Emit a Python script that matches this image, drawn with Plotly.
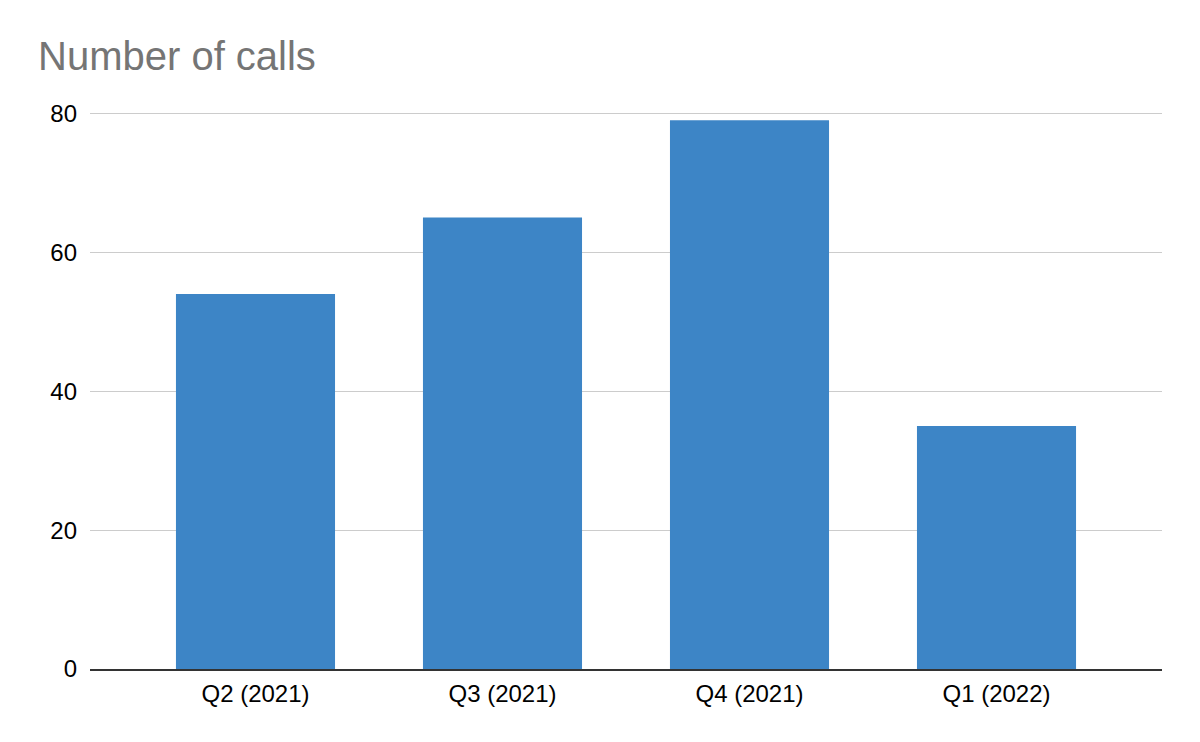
import plotly.graph_objects as go

quarters = ["Q2 (2021)", "Q3 (2021)", "Q4 (2021)", "Q1 (2022)"]
calls = [54, 65, 79, 35]
y_ticks = [0, 20, 40, 60, 80]

fig = go.Figure(data=[go.Bar(x=quarters, y=calls, marker_color="#3d85c6",
                             marker_line_width=0)])

# page has an 8px body margin, so offsets below are shifted by 8
fig.update_layout(
    width=1200, height=742, autosize=False,
    paper_bgcolor="white", plot_bgcolor="white",
    margin=dict(l=82, r=46, t=104, b=81),
    font=dict(family="Liberation Sans, Arial, sans-serif", size=24, color="#000000"),
    title=dict(text="Number of calls", xref="container", yref="container",
               x=30 / 1200, y=1 - 48 / 742, xanchor="left", yanchor="middle",
               font=dict(size=40, color="#757575")),
    bargap=0.356,
    showlegend=False,
    xaxis=dict(range=[-0.67, 3.67], showgrid=False, showline=True,
               linecolor="#333333", linewidth=2, ticks="", ticklabelstandoff=2),
    yaxis=dict(range=[0, 80.2], tickvals=y_ticks, showgrid=True,
               gridcolor="#cccccc", gridwidth=1, zeroline=False,
               ticks="", ticklabelstandoff=12, showline=False),
)

fig.write_html("out.html")
